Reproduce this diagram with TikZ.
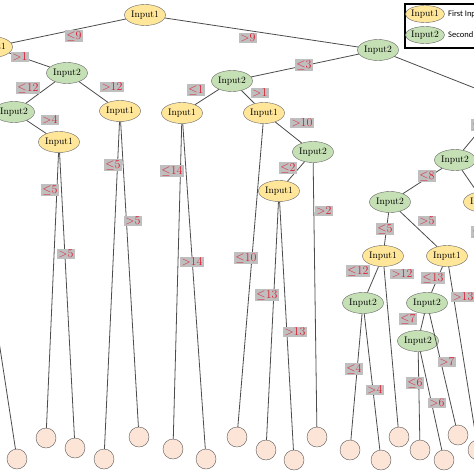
\documentclass[tikz,border=0pt]{standalone}
\usepackage{fontspec}
\newfontfamily\legfont{Carlito}
\usetikzlibrary{shapes.geometric}
\begin{document}
\begin{tikzpicture}[x=1pt,y=-1pt,
  in1/.style={ellipse,draw=black!60,fill={rgb,255:red,255;green,230;blue,153},minimum width=41pt,minimum height=21pt,inner sep=0pt,font=\fontsize{9.5}{9.5}\selectfont},
  in2/.style={ellipse,draw=black!60,fill={rgb,255:red,197;green,224;blue,180},minimum width=41pt,minimum height=21pt,inner sep=0pt,font=\fontsize{9.5}{9.5}\selectfont},
  leaf/.style={circle,draw=black!65,fill={rgb,255:red,252;green,228;blue,214},minimum size=20pt,inner sep=0pt},
  e/.style={draw=black!70,line width=0.8pt},
  lab/.style={fill=black!25,text={rgb,255:red,220;green,30;blue,50},inner sep=1.2pt,font=\fontsize{12}{12}\selectfont}]
\useasboundingbox (0,0) rectangle (474,474);
\clip (0,0) rectangle (474,474);
\fill[white] (0,0) rectangle (474,474);
% internal nodes
\node[in1] (R) at (145,15) {Input1};
\node[in1] (A) at (-8,47) {Input1};
\node[in2] (B) at (67,73) {Input2};
\node[in2] (C) at (14,112) {Input2};
\node[in1] (D) at (59,142) {Input1};
\node[in1] (E) at (120,111) {Input1};
\node[in2] (F) at (378,50) {Input2};
\node[in2] (G) at (232,81) {Input2};
\node[in1] (H) at (182,113) {Input1};
\node[in1] (I) at (264,113) {Input1};
\node[in2] (J) at (313,152) {Input2};
\node[in1] (K) at (279,191) {Input1};
\node[in2] (L) at (455,160) {Input2};
\node[in2] (M) at (390,202) {Input2};
\node[in1] (N) at (484,202) {Input1};
\node[in1] (O) at (383,256) {Input1};
\node[in1] (P) at (447,256) {Input1};
\node[in2] (Q) at (363,303) {Input2};
\node[in2] (S) at (427,303) {Input2};
\node[in2] (T) at (418,341) {Input2};
\node[in2] (U) at (505,100) {Input2};
% leaves
\node[leaf] (l1) at (17,459) {};
\node[leaf] (l2) at (46,438) {};
\node[leaf] (l3) at (75,448) {};
\node[leaf] (l4) at (104,459) {};
\node[leaf] (l5) at (139,437) {};
\node[leaf] (l6) at (173,449) {};
\node[leaf] (l7) at (206,459) {};
\node[leaf] (l8) at (237,437) {};
\node[leaf] (l9) at (266,450) {};
\node[leaf] (l10) at (294,460) {};
\node[leaf] (l11) at (317,437) {};
\node[leaf] (l12) at (350,450) {};
\node[leaf] (l13) at (381,460) {};
\node[leaf] (l14) at (399,437) {};
\node[leaf] (l15) at (420,450) {};
\node[leaf] (l16) at (444,460) {};
\node[leaf] (l17) at (458,435) {};
\node[leaf] (l18) at (478,450) {};
\coordinate (x1) at (-2,335);
\coordinate (x2) at (-10,120);
\coordinate (x3) at (-10,78);
\coordinate (x4) at (482,260);
% edges
\draw[e] (R) -- (A); \draw[e] (R) -- (F);
\draw[e] (A) -- (B); \draw[e] (A) -- (x3);
\draw[e] (B) -- (C); \draw[e] (B) -- (E);
\draw[e] (C) -- (D); \draw[e] (C) -- (x2);
\draw[e] (x1) -- (l1);
\draw[e] (D) -- (l2); \draw[e] (D) -- (l3);
\draw[e] (E) -- (l4); \draw[e] (E) -- (l5);
\draw[e] (F) -- (G); \draw[e] (F) -- (U);
\draw[e] (G) -- (H); \draw[e] (G) -- (I);
\draw[e] (H) -- (l6); \draw[e] (H) -- (l7);
\draw[e] (I) -- (l8); \draw[e] (I) -- (J);
\draw[e] (J) -- (K); \draw[e] (J) -- (l11);
\draw[e] (K) -- (l9); \draw[e] (K) -- (l10);
\draw[e] (U) -- (L);
\draw[e] (L) -- (M); \draw[e] (L) -- (N);
\draw[e] (N) -- (x4);
\draw[e] (M) -- (O); \draw[e] (M) -- (P);
\draw[e] (O) -- (Q); \draw[e] (O) -- (l14);
\draw[e] (P) -- (S); \draw[e] (P) -- (l18);
\draw[e] (Q) -- (l12); \draw[e] (Q) -- (l13);
\draw[e] (S) -- (T); \draw[e] (S) -- (l17);
\draw[e] (T) -- (l15); \draw[e] (T) -- (l16);
% labels
\node[lab] at (74,36) {$\leq$9};
\node[lab] at (248,38) {$>$9};
\node[lab] at (20,57) {$>$1};
\node[lab] at (28,88) {$\leq$12};
\node[lab] at (112,87) {$>$12};
\node[lab] at (50,120) {$>$4};
\node[lab] at (50,190) {$\leq$5};
\node[lab] at (66,254) {$>$5};
\node[lab] at (113,165) {$\leq$5};
\node[lab] at (133,221) {$>$5};
\node[lab] at (172,171) {$\leq$14};
\node[lab] at (192,262) {$>$14};
\node[lab] at (304,65) {$\leq$3};
\node[lab] at (196,90) {$\leq$1};
\node[lab] at (260,93) {$>$1};
\node[lab] at (246,258) {$\leq$10};
\node[lab] at (302,123) {$>$10};
\node[lab] at (288,168) {$\leq$2};
\node[lab] at (324,211) {$>$2};
\node[lab] at (267,295) {$\leq$13};
\node[lab] at (295,332) {$>$13};
\node[lab] at (480,125) {$\leq$3};
\node[lab] at (427,176) {$\leq$8};
\node[lab] at (385,229) {$\leq$5};
\node[lab] at (427,221) {$>$5};
\node[lab] at (358,271) {$\leq$12};
\node[lab] at (402,274) {$>$12};
\node[lab] at (433,278) {$\leq$13};
\node[lab] at (463,297) {$>$13};
\node[lab] at (354,369) {$\leq$4};
\node[lab] at (375,390) {$>$4};
\node[lab] at (408,319) {$\leq$7};
\node[lab] at (447,362) {$>$7};
\node[lab] at (415,383) {$\leq$6};
\node[lab] at (437,403) {$>$6};
\node[lab] at (480,232) {$\leq$3};
% legend
\node[draw=black,line width=1.6pt,fill=white,minimum width=80pt,minimum height=44pt,anchor=north west] (leg) at (404,3) {};
\node[in1,minimum width=38pt,minimum height=17pt] (k1) at (425,14) {Input1};
\node[in2,minimum width=38pt,minimum height=17pt] (k2) at (425,35) {Input2};
\node[anchor=west,font=\legfont\fontsize{8.5}{8.5}\selectfont,inner sep=0pt] at (448,14) {First Input};
\node[anchor=west,font=\legfont\fontsize{8.5}{8.5}\selectfont,inner sep=0pt] at (448,35) {Second Input};
\end{tikzpicture}
\end{document}
